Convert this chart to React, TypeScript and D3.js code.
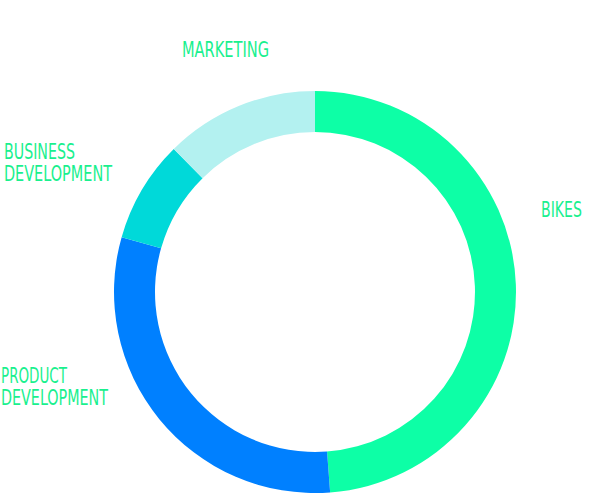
import React, { useEffect, useRef } from "react";
import * as d3 from "d3";

// chart values (share of total, clockwise from 12 o'clock)
const categories = ["Bikes", "Product Development", "Business Development", "Marketing"];
const values = [48.8, 30.6, 8.2, 12.4];
const colors = ["#0dffa6", "#0080ff", "#00d9d9", "#b3f1f0"];
// label text lines
const labelLines = [["BIKES"], ["PRODUCT", "DEVELOPMENT"], ["BUSINESS", "DEVELOPMENT"], ["MARKETING"]];

// layout only: where each label sits (left x, first baseline y) and line widths
const labelPos = [
  { x: 541, y: 217, w: [41] },
  { x: 1, y: 383, w: [66, 107] },
  { x: 4, y: 159, w: [71, 108] },
  { x: 182, y: 57, w: [87] },
];

const W = 595;
const H = 494;

const App = () => {
  const svgRef = useRef<SVGSVGElement>(null);

  useEffect(() => {
    const svg = d3.select(svgRef.current);
    svg.selectAll("*").remove();

    const cx = 315;
    const cy = 292;
    const outer = 201;
    const inner = 160;

    const data = categories.map((c, i) => ({ name: c, value: values[i], i }));

    const pie = d3
      .pie<any>()
      .sort(null)
      .value((d) => d.value);

    const arc = d3.arc<any>().innerRadius(inner).outerRadius(outer);

    const g = svg.append("g").attr("transform", `translate(${cx},${cy})`);

    g.selectAll("path")
      .data(pie(data))
      .enter()
      .append("path")
      .attr("d", arc)
      .attr("fill", (d) => colors[d.data.i]);

    // labels
    const lg = svg.append("g");
    labelLines.forEach((lines, i) => {
      const p = labelPos[i];
      lines.forEach((line, j) => {
        lg.append("text")
          .attr("x", p.x)
          .attr("y", p.y + j * 22)
          .attr("textLength", p.w[j])
          .attr("lengthAdjust", "spacingAndGlyphs")
          .attr("font-family", "'Liberation Sans Narrow', 'DejaVu Sans Condensed', sans-serif")
          .attr("font-size", 21)
          .attr("fill", "#19f08e")
          .text(line);
      });
    });
  }, []);

  return (
    <svg
      ref={svgRef}
      width={W}
      height={H}
      style={{ position: "absolute", left: 0, top: 0, background: "#fff" }}
    ></svg>
  );
};

export default App;
